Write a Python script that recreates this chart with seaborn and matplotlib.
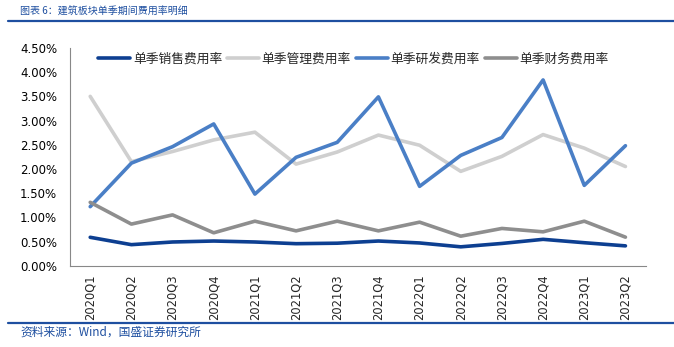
import matplotlib
matplotlib.use("Agg")
import matplotlib.pyplot as plt
import seaborn as sns
import pandas as pd
from matplotlib.lines import Line2D
from matplotlib.ticker import FixedLocator, FuncFormatter

quarters = ["2020Q1", "2020Q2", "2020Q3", "2020Q4", "2021Q1", "2021Q2", "2021Q3",
            "2021Q4", "2022Q1", "2022Q2", "2022Q3", "2022Q4", "2023Q1", "2023Q2"]
sales = [0.587, 0.435, 0.49, 0.51, 0.49, 0.455, 0.465, 0.51, 0.47, 0.39, 0.46, 0.545, 0.475, 0.41]
admin = [3.50, 2.15, 2.36, 2.60, 2.76, 2.10, 2.35, 2.70, 2.49, 1.95, 2.26, 2.71, 2.43, 2.05]
rnd = [1.22, 2.12, 2.46, 2.93, 1.48, 2.24, 2.55, 3.49, 1.64, 2.28, 2.65, 3.84, 1.66, 2.48]
finance = [1.31, 0.86, 1.05, 0.68, 0.92, 0.72, 0.92, 0.72, 0.90, 0.61, 0.77, 0.70, 0.92, 0.59]
series_names = ["单季销售费用率", "单季管理费用率", "单季研发费用率", "单季财务费用率"]
colors = ["#0D3F91", "#CFCFCF", "#4A7FC6", "#8E8E8E"]
yticks = [0, 0.5, 1.0, 1.5, 2.0, 2.5, 3.0, 3.5, 4.0, 4.5]

sns.set_style("white")
plt.rcParams['font.family'] = ['Noto Sans CJK SC', 'DejaVu Sans']

rows = []
for name, vals in zip(series_names, [sales, admin, rnd, finance]):
    for i, (q, v) in enumerate(zip(quarters, vals)):
        rows.append({"pos": i, "quarter": q, "value": v, "series": name})
df = pd.DataFrame(rows)

fig = plt.figure(figsize=(6.74, 3.47), dpi=100)
ax = fig.add_axes([0.1033, 0.2343, 0.8552, 0.6274])
sns.lineplot(data=df, x="pos", y="value", hue="series", hue_order=series_names,
             palette=colors, linewidth=2.6, ax=ax, legend=False, sort=False)

ax.set_xlim(-0.5, len(quarters) - 0.5)
ax.set_ylim(0, 4.5)
ax.set_xlabel("")
ax.set_ylabel("")
ax.yaxis.set_major_locator(FixedLocator(yticks))
ax.yaxis.set_major_formatter(FuncFormatter(lambda v, p: f"{v:.2f}%"))
for lab in ax.get_yticklabels():
    lab.set_family(['DejaVu Sans'])
ax.tick_params(axis='y', labelsize=8.5, length=0, pad=9, colors='black')

ax.set_xticks([i - 0.5 for i in range(len(quarters) + 1)])
ax.set_xticklabels([])
ax.tick_params(axis='x', which='major', direction='in', length=4, color='#888888')
ax.set_xticks(list(range(len(quarters))), minor=True)
ax.set_xticklabels(quarters, minor=True, rotation=90, fontsize=8.3, family=['DejaVu Sans'])
ax.tick_params(axis='x', which='minor', length=0, pad=6.5)

for s in ["top", "right"]:
    ax.spines[s].set_visible(False)
for s in ["left", "bottom"]:
    ax.spines[s].set_color("#888888")
    ax.spines[s].set_linewidth(0.8)

handles = [Line2D([0], [0], color=c, lw=2.6) for c in colors]
ax.legend(handles, series_names, ncol=4, frameon=False, loc='upper left',
          bbox_to_anchor=(0.03, 1.03), fontsize=9.2, handlelength=2.5,
          handletextpad=0.2, columnspacing=0.4)

blue = "#1E4FA0"
fig.text(20 / 674, 1 - 12 / 347, "图表 6：建筑板块单季期间费用率明细", color=blue,
         fontsize=7.2, style='italic', va='center', ha='left')
fig.add_artist(Line2D([8 / 674, 1], [1 - 21 / 347, 1 - 21 / 347], color=blue, lw=1.6))
fig.add_artist(Line2D([8 / 674, 1], [1 - 323 / 347, 1 - 323 / 347], color=blue, lw=1.6))
fig.text(20 / 674, 1 - 332 / 347, "资料来源：Wind，国盛证券研究所", color=blue,
         fontsize=8.5, style='italic', va='center', ha='left')

fig.savefig("out.png", dpi=100)
